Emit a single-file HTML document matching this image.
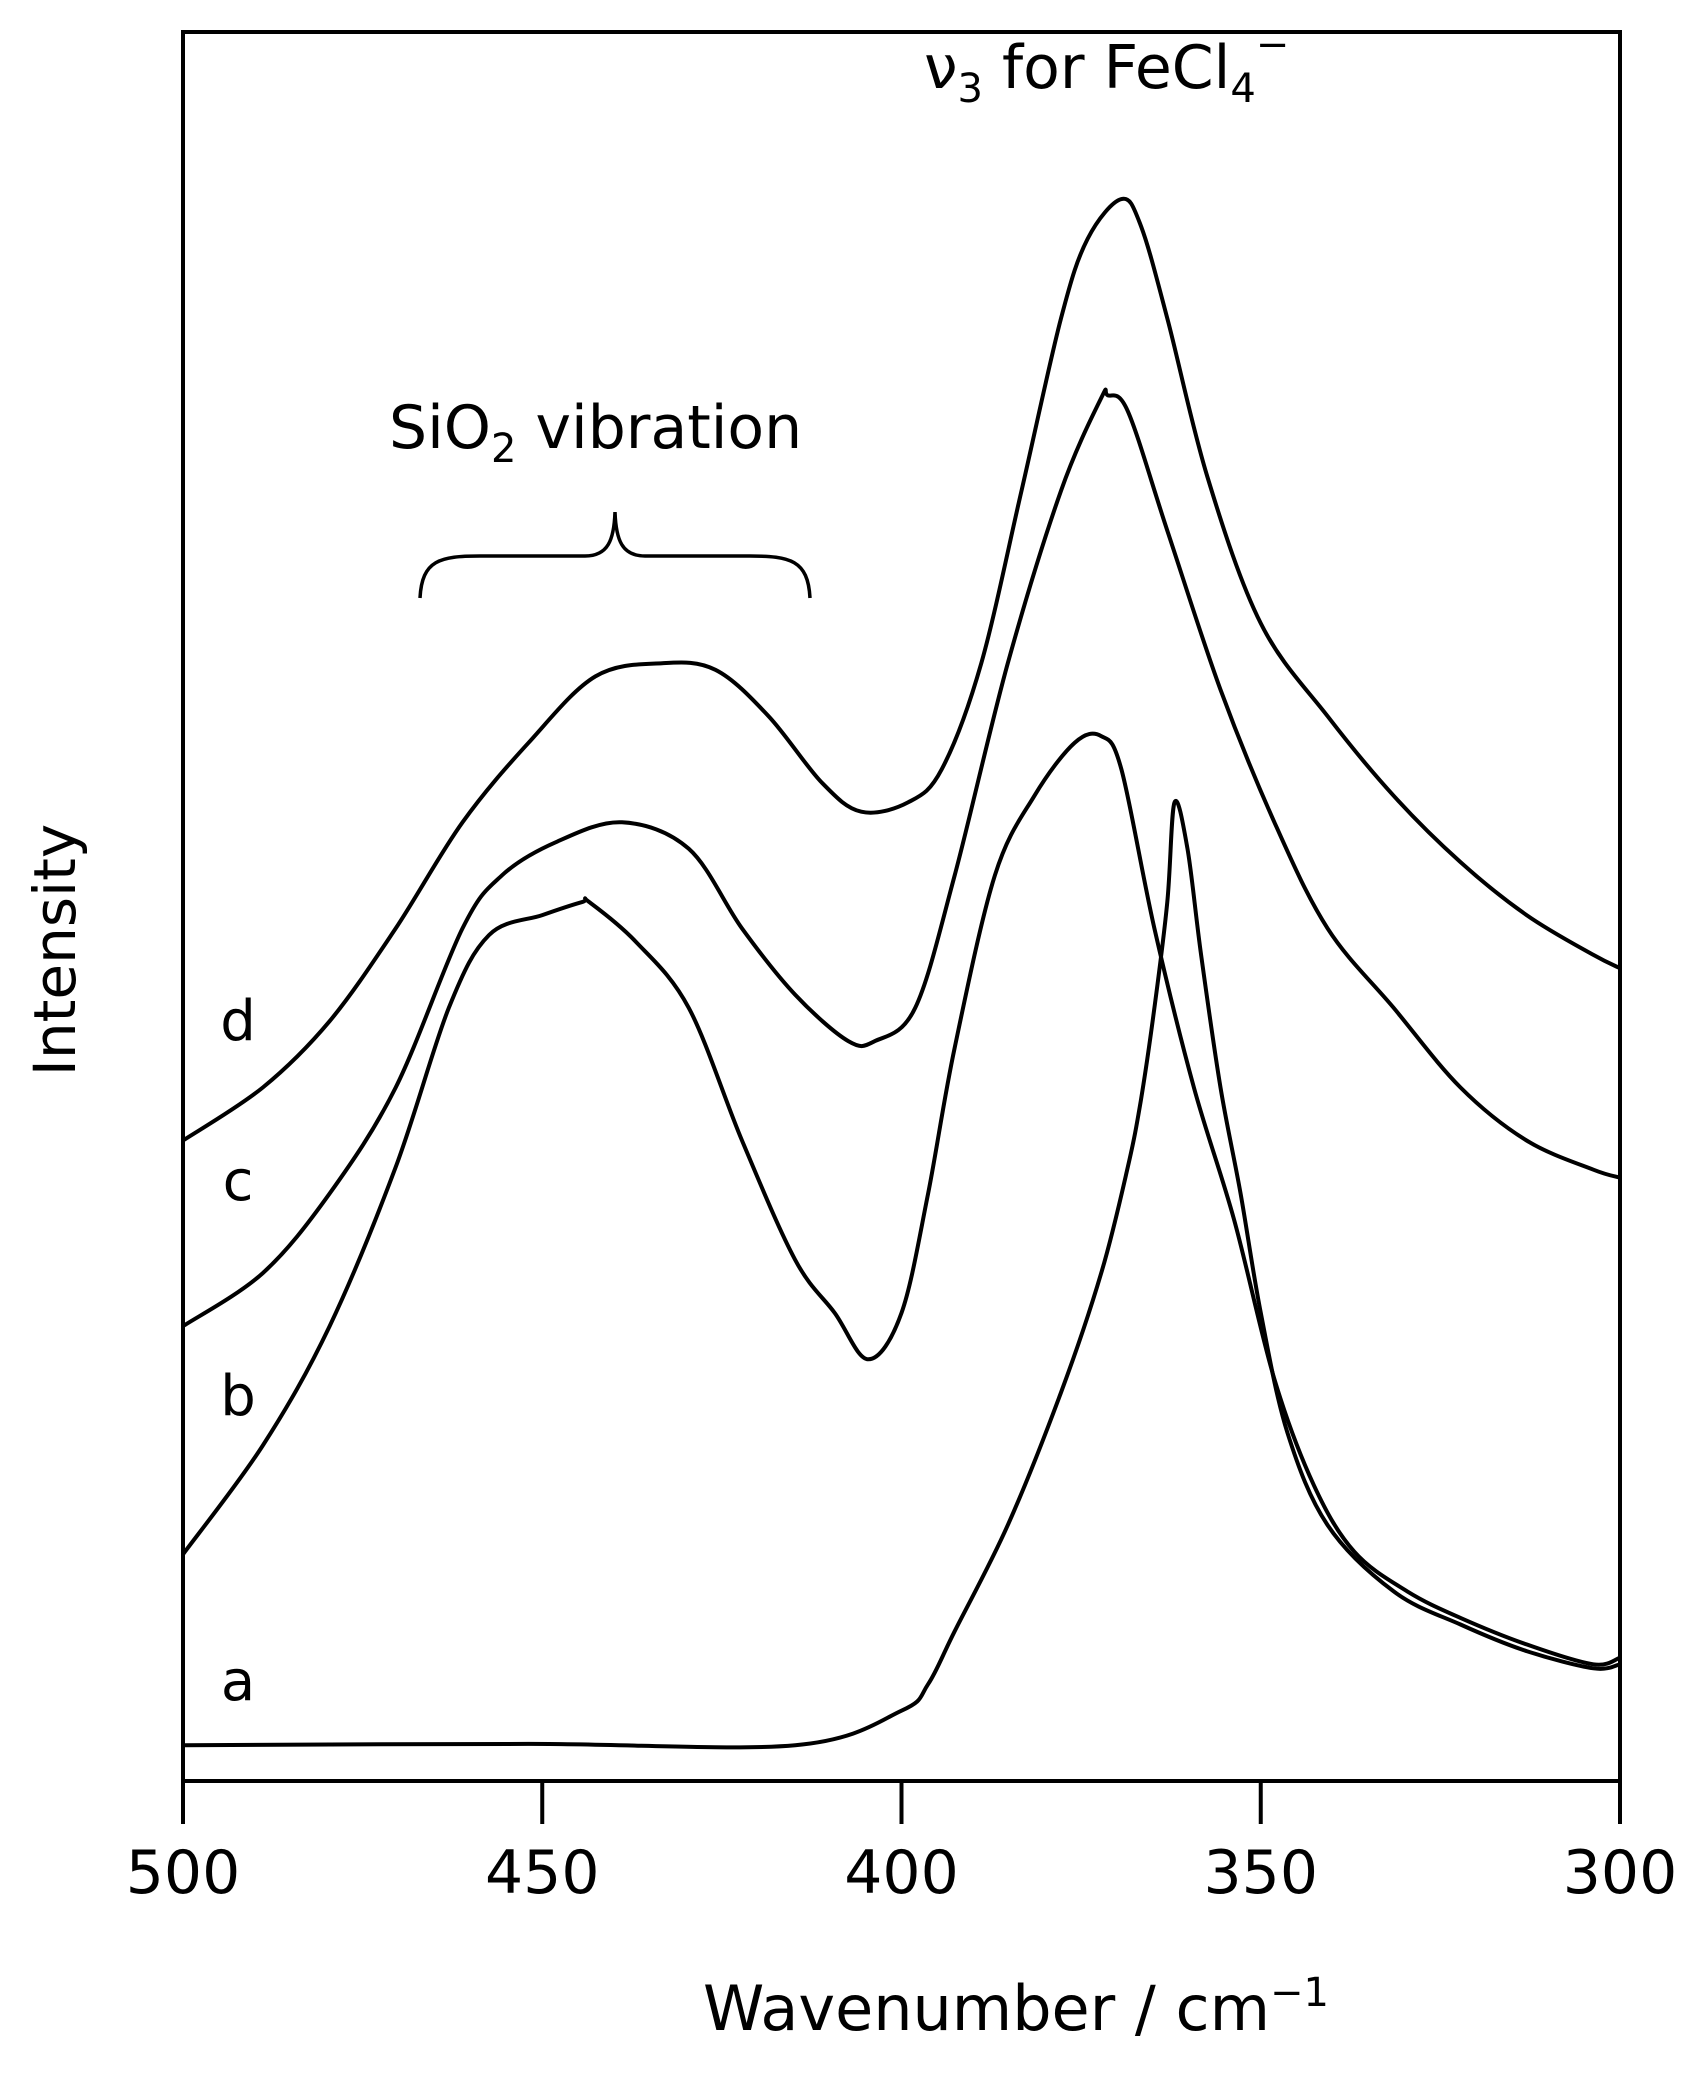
<!DOCTYPE html>
<html><head><meta charset="utf-8"><style>
html,body{margin:0;padding:0;background:#fff;}
svg{display:block;font-family:"DejaVu Sans","Liberation Sans",sans-serif;}
</style></head><body>
<svg id="chart" width="1689" height="2078" viewBox="0 0 1689 2078">
<rect x="183" y="32" width="1437" height="1749" fill="none" stroke="#000" stroke-width="4"/>
<g id="xticks"></g>
<g id="series"></g>
<text x="1016" y="2030" font-size="62" text-anchor="middle">Wavenumber / cm<tspan dy="-24" font-size="40">−1</tspan></text>
<text transform="translate(75,950) rotate(-90)" font-size="58" text-anchor="middle">Intensity</text>
<text x="924" y="88" font-size="60">ν<tspan dy="14" font-size="40">3</tspan><tspan dy="-14"> for FeCl</tspan><tspan dy="14" font-size="40">4</tspan><tspan dy="-44" font-size="40">−</tspan></text>
<text x="389" y="448" font-size="60">SiO<tspan dy="14" font-size="40">2</tspan><tspan dy="-14"> vibration</tspan></text>
<path d="M420,598 C422,560 440,556 480,556 L585,556 C608,556 614,540 615,512 C616,540 622,556 645,556 L750,556 C790,556 808,560 810,598" fill="none" stroke="#000" stroke-width="3.5"/>
<text x="238" y="1040" font-size="56" text-anchor="middle">d</text>
<text x="238" y="1200" font-size="56" text-anchor="middle">c</text>
<text x="238" y="1415" font-size="56" text-anchor="middle">b</text>
<text x="238" y="1700" font-size="56" text-anchor="middle">a</text>
</svg>
<script>
const xTicks = [500, 450, 400, 350, 300];
const wnA = [500, 451.9, 414.8, 400, 396.3, 392.6, 385.2, 377.8, 372.2, 368.5, 366.7, 364.8, 363, 362, 360.2, 358.3, 355.6, 352.8, 350, 346.3, 340.7, 331.5, 322.2, 313, 303.7, 300];
const intA = [27, 28, 27, 53, 73, 113, 193, 293, 383, 463, 513, 583, 663, 738, 703, 623, 523, 443, 353, 263, 193, 143, 118, 98, 85, 88];
const wnB = [500, 488.9, 479.6, 470.4, 463, 457.4, 450, 444.4, 443.5, 437, 429.6, 422.2, 414.8, 409.3, 404.6, 400, 396.3, 392.6, 387, 381.5, 375.9, 372.2, 369.4, 364.8, 359.3, 353.7, 348.1, 342.6, 337, 329.6, 322.2, 313, 303.7, 300];
const intB = [171, 253, 343, 463, 583, 638, 653, 663, 663, 633, 583, 483, 393, 353, 318, 353, 443, 553, 683, 743, 783, 788, 763, 643, 523, 423, 303, 223, 173, 143, 123, 103, 88, 93];
const wnC = [500, 488.9, 479.6, 470.4, 461.1, 455.6, 448.1, 438.9, 429.6, 422.2, 414.8, 407.4, 403.7, 398.1, 392.6, 385.2, 377.8, 372.2, 371.3, 368.5, 363, 355.6, 348.1, 340.7, 331.5, 322.2, 313, 303.7, 300];
const intC = [343, 383, 443, 523, 643, 683, 708, 723, 703, 643, 593, 558, 558, 583, 683, 843, 973, 1043, 1045, 1033, 943, 823, 723, 643, 583, 523, 483, 461, 455];
const wnD = [500, 488.9, 479.6, 470.4, 461.1, 451.9, 442.6, 433.3, 425.9, 418.5, 411.1, 405.6, 399.1, 394.4, 388.9, 383.3, 377.8, 374.1, 369.4, 366.7, 363, 357.4, 350, 340.7, 331.5, 322.2, 313, 303.7, 300];
const intD = [483, 523, 573, 643, 723, 783, 833, 843, 838, 803, 753, 731, 738, 763, 843, 973, 1103, 1163, 1193, 1173, 1103, 983, 873, 803, 743, 693, 653, 623, 613];

const X0 = 183, X1 = 1620, Y0 = 1781, Y1 = 32;
function xScale(w){ return X0 + (500 - w) / 200 * (X1 - X0); }
function yScale(v){ return Y0 - v / 1319 * (Y0 - Y1); }
const NS = "http://www.w3.org/2000/svg";
const tg = document.getElementById('xticks');
xTicks.forEach(t => {
  const l = document.createElementNS(NS, 'line');
  l.setAttribute('x1', xScale(t)); l.setAttribute('x2', xScale(t));
  l.setAttribute('y1', Y0); l.setAttribute('y2', 1824);
  l.setAttribute('stroke', '#000'); l.setAttribute('stroke-width', '4');
  
  
  tg.appendChild(l);
  const tx = document.createElementNS(NS, 'text');
  tx.setAttribute('x', xScale(t)); tx.setAttribute('y', 1893);
  tx.setAttribute('font-size', '60'); tx.setAttribute('text-anchor', 'middle');
  tx.textContent = t;
  
  
  tg.appendChild(tx);
});
function smoothPath(pts){
  let d = 'M' + pts[0][0].toFixed(1) + ',' + pts[0][1].toFixed(1);
  for (let i = 0; i < pts.length - 1; i++) {
    const p0 = pts[Math.max(0, i - 1)], p1 = pts[i], p2 = pts[i + 1], p3 = pts[Math.min(pts.length - 1, i + 2)];
    const c1x = p1[0] + (p2[0] - p0[0]) / 6, c1y = p1[1] + (p2[1] - p0[1]) / 6;
    const c2x = p2[0] - (p3[0] - p1[0]) / 6, c2y = p2[1] - (p3[1] - p1[1]) / 6;
    d += ' C' + c1x.toFixed(1) + ',' + c1y.toFixed(1) + ' ' + c2x.toFixed(1) + ',' + c2y.toFixed(1) + ' ' + p2[0].toFixed(1) + ',' + p2[1].toFixed(1);
  }
  return d;
}
const sg = document.getElementById('series');
[[wnA, intA, 'a'], [wnB, intB, 'b'], [wnC, intC, 'c'], [wnD, intD, 'd']].forEach(s => {
  const pts = s[0].map((w, i) => [xScale(w), yScale(s[1][i])]);
  const p = document.createElementNS(NS, 'path');
  p.setAttribute('d', smoothPath(pts));
  p.setAttribute('fill', 'none'); p.setAttribute('stroke', '#000');
  p.setAttribute('stroke-width', '4'); p.setAttribute('stroke-linejoin', 'round');
  
  
  sg.appendChild(p);
});
</script>
</body></html>
